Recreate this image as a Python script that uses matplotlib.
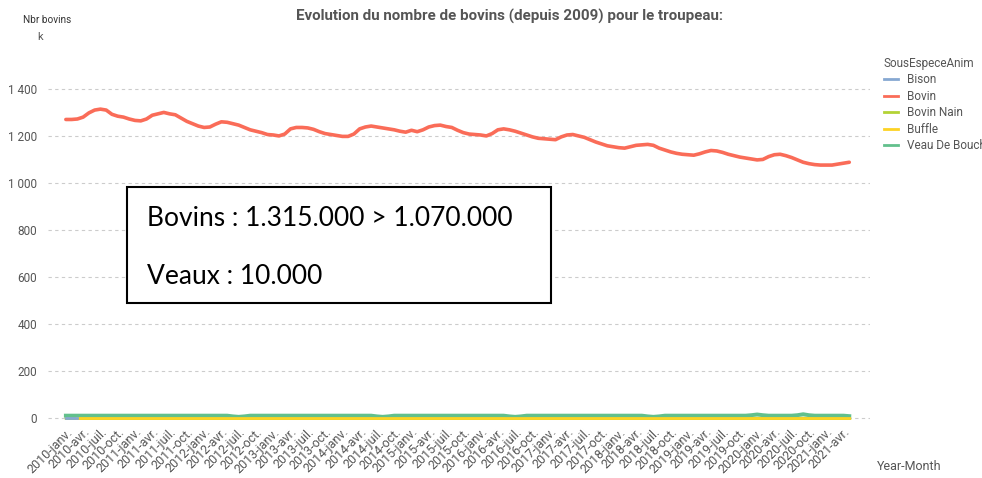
import matplotlib.pyplot as plt
from matplotlib.lines import Line2D
import numpy as np

# monthly data, 2010-janv. -> 2021-mai (milliers de têtes)
bovin = [1270, 1270, 1272, 1280, 1298, 1310, 1314, 1310, 1292, 1284, 1280, 1272,
         1266, 1264, 1272, 1288, 1294, 1300, 1294, 1290, 1276, 1262, 1252, 1242,
         1236, 1238, 1250, 1260, 1258, 1252, 1246, 1236, 1226, 1220, 1214, 1206,
         1204, 1200, 1208, 1230, 1236, 1236, 1234, 1228, 1218, 1210, 1206, 1202,
         1198, 1198, 1208, 1230, 1238, 1242, 1238, 1234, 1230, 1226, 1220, 1216,
         1224, 1218, 1226, 1238, 1244, 1246, 1240, 1236, 1224, 1214, 1208, 1206,
         1204, 1200, 1210, 1226, 1230, 1226, 1220, 1212, 1204, 1196, 1190, 1188,
         1186, 1184, 1196, 1204, 1206, 1200, 1194, 1184, 1174, 1166, 1158, 1154,
         1150, 1148, 1154, 1160, 1162, 1164, 1160, 1148, 1140, 1132, 1126, 1122,
         1120, 1118, 1124, 1132, 1138, 1136, 1130, 1122, 1116, 1110, 1106, 1102,
         1098, 1100, 1112, 1120, 1122, 1116, 1108, 1098, 1088, 1082, 1078, 1076,
         1076, 1076, 1080, 1084, 1088]
n = len(bovin)

veau = [10] * n
for i, v in [(29, 7), (30, 5), (31, 7), (54, 7), (55, 5), (56, 7), (77, 7), (78, 5), (79, 7),
             (101, 7), (102, 5), (103, 7), (119, 12), (120, 15), (121, 12), (127, 12),
             (128, 16), (129, 12), (136, 8)]:
    veau[i] = v
buffle = [np.nan, np.nan] + [2] * (n - 2)
bovin_nain = [1] * n
bison = [1, 1, 1] + [np.nan] * (n - 3)

mois = {1: "janv.", 4: "avr.", 7: "juil.", 10: "oct."}
tick_pos = list(range(0, n, 3))
tick_lab = [f"{2010 + p // 12}-{mois[p % 12 + 1]}" for p in tick_pos]

c_bison = "#86a8d2"
c_bovin = "#fa6c58"
c_nain = "#b3d335"
c_buffle = "#fdd324"
c_veau = "#62c08c"

narrow = ["Liberation Sans Narrow", "Roboto", "DejaVu Sans"]
grey = "#555555"

fig = plt.figure(figsize=(9.82, 4.78), dpi=100)
ax = fig.add_axes([48 / 982, 58 / 478, 822 / 982, 360 / 478])

x = np.arange(n)
ax.plot(x, bovin_nain, color=c_nain, lw=2.5)
ax.plot(x, veau, color=c_veau, lw=2.8)
ax.plot(x, buffle, color=c_buffle, lw=2.0)
ax.plot(x, bison, color=c_bison, lw=2.0)
ax.plot(x, bovin, color=c_bovin, lw=2.6, solid_capstyle="round")

ax.set_xlim(-3.1, 139.6)
ax.set_ylim(-8.5, 1523)
ax.set_yticks(range(0, 1401, 200))
ax.set_yticklabels([f"{v:,}".replace(",", " ") for v in range(0, 1401, 200)],
                   family=narrow, fontsize=8.5, color=grey)
ax.set_xticks(tick_pos)
ax.set_xticklabels(tick_lab, rotation=45, ha="right", rotation_mode="anchor",
                   family=narrow, fontsize=9, color=grey)
ax.tick_params(axis="both", length=0)
ax.tick_params(axis="y", pad=8)
ax.tick_params(axis="x", pad=4)
ax.grid(axis="y", color="#cccccc", ls=(0, (3, 3)), lw=0.8)
ax.set_axisbelow(True)
for s in ax.spines.values():
    s.set_visible(False)

fig.text(510 / 982, 1 - 16 / 478, "Evolution du nombre de bovins (depuis 2009) pour le troupeau:",
         ha="center", va="center", family=narrow, fontsize=10.9, fontweight="bold", color=grey)
fig.text(23 / 982, 1 - 20 / 478, "Nbr bovins", ha="left", va="center",
         family=narrow, fontsize=7.2, color="#333333")
fig.text(40 / 982, 1 - 37 / 478, "k", ha="center", va="center",
         family=narrow, fontsize=8, color=grey)
fig.text(877 / 982, 1 - 466 / 478, "Year-Month", ha="left", va="center",
         family=narrow, fontsize=9, color=grey)

# encadré
box = plt.Rectangle((127 / 982, 1 - 303 / 478), 424 / 982, 116 / 478, transform=fig.transFigure,
                    facecolor="white", edgecolor="black", lw=1.5, zorder=5)
fig.patches.append(box)
fig.text(147 / 982, 1 - 218 / 478, "Bovins : 1.315.000 > 1.070.000", ha="left", va="center",
         fontsize=19, family=["Lato", "DejaVu Sans"], color="black", zorder=6)
fig.text(147 / 982, 1 - 277 / 478, "Veaux : 10.000", ha="left", va="center",
         fontsize=19, family=["Lato", "DejaVu Sans"], color="black", zorder=6)

handles = [Line2D([], [], color=c, lw=2) for c in [c_bison, c_bovin, c_nain, c_buffle, c_veau]]
labels = ["Bison", "Bovin", "Bovin Nain", "Buffle", "Veau De Boucherie"]
leg = fig.legend(handles, labels, title="SousEspeceAnim", loc="upper left",
                 bbox_to_anchor=(879 / 982, 1 - 52 / 478), frameon=False,
                 prop={"family": narrow, "size": 8.5}, handlelength=1.2,
                 handletextpad=0.8, labelspacing=0.3, borderaxespad=0)
leg.get_title().set_family(narrow)
leg.get_title().set_fontsize(8.5)
leg.get_title().set_color(grey)
leg._legend_box.align = "left"
for t in leg.get_texts():
    t.set_color(grey)

fig.savefig("out.png", dpi=100)
